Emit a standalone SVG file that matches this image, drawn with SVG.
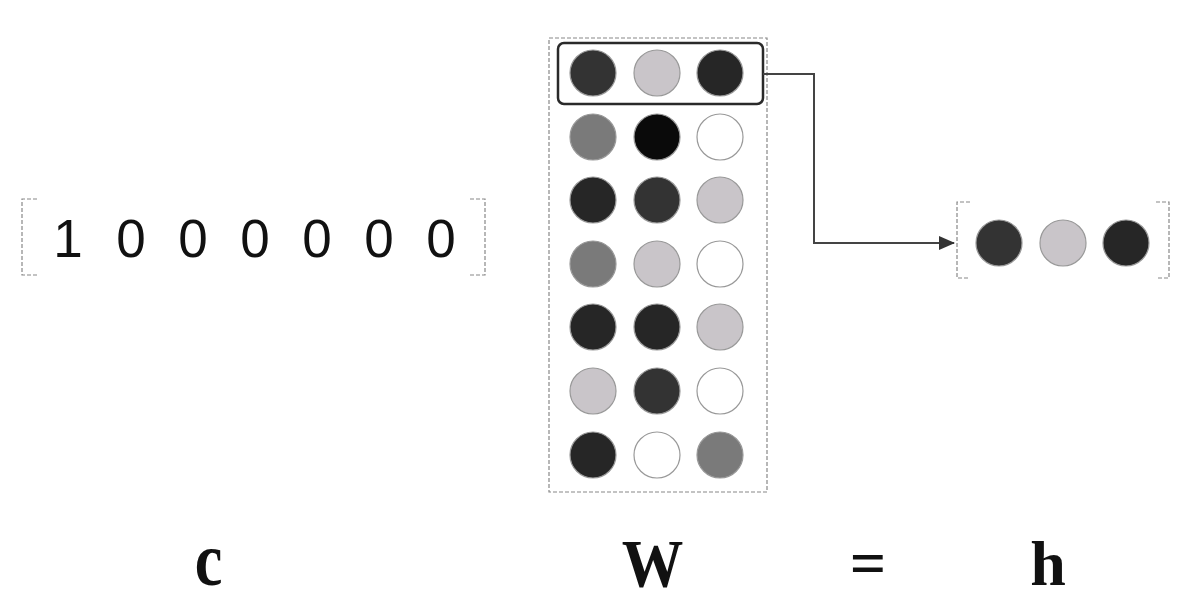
<svg xmlns="http://www.w3.org/2000/svg" width="1195" height="615" viewBox="0 0 1195 615">
<style>
.br{fill:none;stroke:#888;stroke-width:1.2;stroke-dasharray:4 2}
.dot{stroke:#999;stroke-width:1.2}
.num{font-family:"Liberation Sans",Arial,sans-serif;font-size:53px;fill:#111;text-anchor:middle}
.lbl{font-family:"Liberation Serif","Times New Roman",serif;font-weight:bold;fill:#111;text-anchor:middle}
.k0{fill:#fff}
.k1{fill:#c9c5c9}
.k2{fill:#7a7a7a}
.k3{fill:#333}
.k4{fill:#262626}
.k5{fill:#0a0a0a}
</style>
<defs>
<marker id="ah" markerWidth="16" markerHeight="14" refX="15" refY="7" orient="auto" markerUnits="userSpaceOnUse">
<path d="M0,0 L16,7 L0,14 Z" fill="#333"/>
</marker>
</defs>
<rect width="1195" height="615" fill="#fff"/>

<g id="c-vector">
<path class="br" d="M37,199 H22 V275 H37"/>
<path class="br" d="M470,199 H485 V275 H470"/>
<text class="num" x="68" y="257">1</text>
<text class="num" x="131" y="257">0</text>
<text class="num" x="193" y="257">0</text>
<text class="num" x="255" y="257">0</text>
<text class="num" x="317" y="257">0</text>
<text class="num" x="379" y="257">0</text>
<text class="num" x="441" y="257">0</text>
</g>

<g id="W-matrix">
<rect x="549" y="38" width="218" height="454" fill="none" stroke="#888" stroke-width="1.2" stroke-dasharray="4 2"/>
<g id="row1">
<circle class="dot k3" cx="593" cy="73" r="23"/>
<circle class="dot k1" cx="657" cy="73" r="23"/>
<circle class="dot k4" cx="720" cy="73" r="23"/>
</g>
<rect id="highlight" x="558" y="43" width="205" height="61" rx="6" fill="none" stroke="#2a2a2a" stroke-width="2.5"/>
<g id="row2">
<circle class="dot k2" cx="593" cy="137" r="23"/>
<circle class="dot k5" cx="657" cy="137" r="23"/>
<circle class="dot k0" cx="720" cy="137" r="23"/>
</g>
<g id="row3">
<circle class="dot k4" cx="593" cy="200" r="23"/>
<circle class="dot k3" cx="657" cy="200" r="23"/>
<circle class="dot k1" cx="720" cy="200" r="23"/>
</g>
<g id="row4">
<circle class="dot k2" cx="593" cy="264" r="23"/>
<circle class="dot k1" cx="657" cy="264" r="23"/>
<circle class="dot k0" cx="720" cy="264" r="23"/>
</g>
<g id="row5">
<circle class="dot k4" cx="593" cy="327" r="23"/>
<circle class="dot k4" cx="657" cy="327" r="23"/>
<circle class="dot k1" cx="720" cy="327" r="23"/>
</g>
<g id="row6">
<circle class="dot k1" cx="593" cy="391" r="23"/>
<circle class="dot k3" cx="657" cy="391" r="23"/>
<circle class="dot k0" cx="720" cy="391" r="23"/>
</g>
<g id="row7">
<circle class="dot k4" cx="593" cy="455" r="23"/>
<circle class="dot k0" cx="657" cy="455" r="23"/>
<circle class="dot k2" cx="720" cy="455" r="23"/>
</g>
</g>

<g id="h-vector">
<path class="br" d="M970,202 H957 V278 H970"/>
<path class="br" d="M1156,202 H1169 V278 H1156"/>
<circle class="dot k3" cx="999" cy="243" r="23"/>
<circle class="dot k1" cx="1063" cy="243" r="23"/>
<circle class="dot k4" cx="1126" cy="243" r="23"/>
</g>

<g id="connectors">
<path d="M763,74 H814 V243 H954" fill="none" stroke="#444" stroke-width="2" marker-end="url(#ah)"/>
</g>

<g id="labels">
<text class="lbl" font-size="76" transform="translate(208.5,585) scale(0.82,1)">c</text>
<text class="lbl" font-size="67" transform="translate(652.5,586) scale(0.92,1)">W</text>
<text class="lbl" font-size="64" x="868" y="585">=</text>
<text class="lbl" font-size="64" x="1048" y="585">h</text>
</g>
</svg>
